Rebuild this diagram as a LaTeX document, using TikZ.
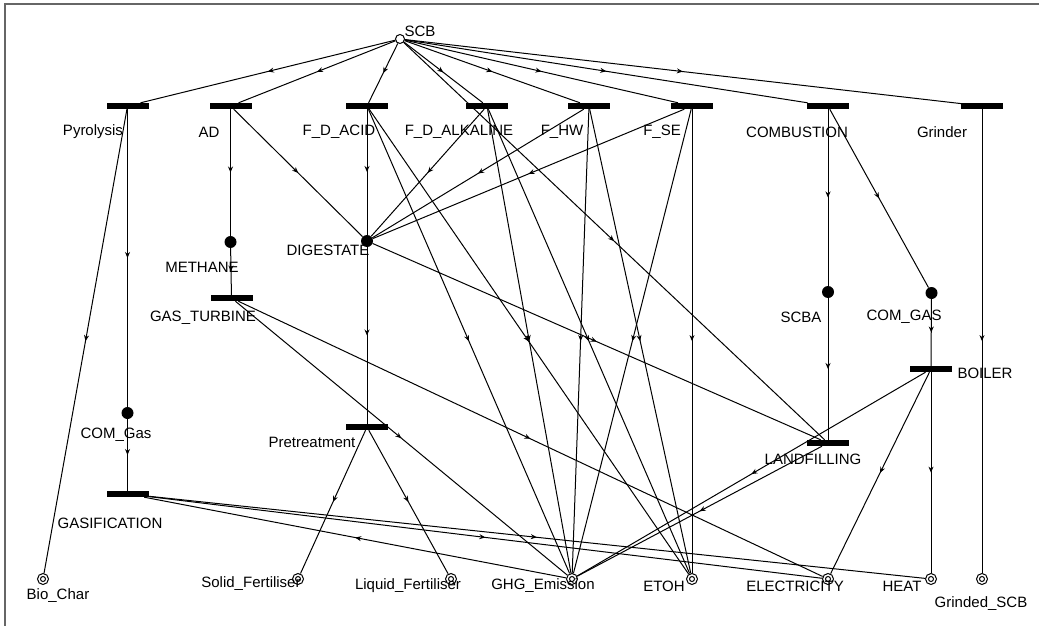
\documentclass[tikz,border=0pt]{standalone}
\usepackage{fontspec}
\setmainfont{Liberation Sans}
\usetikzlibrary{decorations.markings,arrows.meta}
\begin{document}
\begin{tikzpicture}[x=1pt,y=-1pt,
  trans/.style={rectangle,fill=black,minimum width=42pt,minimum height=6pt,inner sep=0pt},
  place/.style={circle,fill=black,minimum size=12pt,inner sep=0pt},
  sink/.style={circle,draw,line width=1pt,fill=white,minimum size=11pt,inner sep=0pt,
    path picture={\draw[line width=1pt] (path picture bounding box.center) circle (2.5pt);}},
  src/.style={circle,draw,line width=1pt,fill=white,minimum size=9pt,inner sep=0pt},
  lbl/.style={font=\fontsize{15}{18}\selectfont,inner sep=0pt,text=black},
  flow/.style={line width=1pt,postaction={decorate},
    decoration={markings,mark=at position 0.5 with {\arrow{Stealth[length=6pt,width=5pt]}}}},
]
\useasboundingbox (0,0) rectangle (1039,626);
% frame
\draw[line width=2pt,black!60] (5,626) -- (5,4) -- (1039,4);

% source place
\node[src] (SCB) at (400,39) {};
% transitions
\node[trans] (PYR) at (127.5,106) {};
\node[trans] (AD) at (230.5,106) {};
\node[trans] (FDA) at (367,106) {};
\node[trans] (FDK) at (487,106) {};
\node[trans] (FHW) at (589,106) {};
\node[trans] (FSE) at (692,106) {};
\node[trans] (COMB) at (828,106) {};
\node[trans] (GRIND) at (982,106) {};
\node[trans] (GT) at (231.5,298) {};
\node[trans] (PRE) at (367,427) {};
\node[trans] (GAS) at (127.5,494) {};
\node[trans] (LAND) at (828,443) {};
\node[trans] (BOIL) at (931,369) {};
% places
\node[place] (METH) at (230.5,242) {};
\node[place] (DIG) at (367,241) {};
\node[place] (COMg) at (127.5,413) {};
\node[place] (SCBA) at (828,292) {};
\node[place] (COMG) at (931.5,293) {};
% sinks
\node[sink] (BIO) at (43,579) {};
\node[sink] (SOLID) at (298,579) {};
\node[sink] (LIQ) at (451,579) {};
\node[sink] (GHG) at (572,579) {};
\node[sink] (ETOH) at (692,579) {};
\node[sink] (ELEC) at (828,579) {};
\node[sink] (HEAT) at (931,579) {};
\node[sink] (GSCB) at (982,579) {};

% labels
\node[lbl] at (420,31) {SCB};
\node[lbl] at (93,132) {Pyrolysis};
\node[lbl] at (209,132) {AD};
\node[lbl] at (339,132) {F\_D\_ACID};
\node[lbl] at (459,132) {F\_D\_ALKALINE};
\node[lbl] at (562,132) {F\_HW};
\node[lbl] at (662,132) {F\_SE};
\node[lbl] at (797,132) {COMBUSTION};
\node[lbl] at (942,132) {Grinder};
\node[lbl] at (202,267) {METHANE};
\node[lbl] at (328,250) {DIGESTATE};
\node[lbl] at (203,318) {GAS\_TURBINE};
\node[lbl] at (312,442) {Pretreatment};
\node[lbl] at (116,435) {COM\_Gas};
\node[lbl] at (110,523) {GASIFICATION};
\node[lbl] at (801,317) {SCBA};
\node[lbl] at (904,317) {COM\_GAS};
\node[lbl] at (985,373) {BOILER};
\node[lbl] at (813,459) {LANDFILLING};
\node[lbl] at (58,596) {Bio\_Char};
\node[lbl] at (251,584) {Solid\_Fertiliser};
\node[lbl] at (408,586) {Liquid\_Fertiliser};
\node[lbl] at (543,586) {GHG\_Emission};
\node[lbl] at (664,586) {ETOH};
\node[lbl] at (795,586) {ELECTRICITY};
\node[lbl] at (902,586) {HEAT};
\node[lbl] at (981,604) {Grinded\_SCB};

% arcs from SCB
\foreach \t in {PYR,AD,FDA,FDK,FHW,FSE,COMB,GRIND,LAND}
  \draw[flow] (SCB) -- (\t);
% Pyrolysis
\draw[flow] (PYR) -- (COMg);
\draw[flow] (PYR) -- (BIO);
\draw[flow] (COMg) -- (GAS);
% AD
\draw[flow] (AD) -- (METH);
\draw[flow] (AD) -- (DIG);
\draw[flow] (METH) -- (GT);
\draw[flow] (GT) -- (GHG);
\draw[flow] (GT) -- (ELEC);
% fractionation transitions
\foreach \t in {FDA,FDK,FHW,FSE} {
  \draw[flow] (\t) -- (DIG);
  \draw[flow] (\t) -- (GHG);
  \draw[flow] (\t) -- (ETOH);
}
% digestate
\draw[flow] (DIG) -- (PRE);
\draw[flow] (DIG) -- (LAND);
\draw[flow] (PRE) -- (SOLID);
\draw[flow] (PRE) -- (LIQ);
% combustion
\draw[flow] (COMB) -- (SCBA);
\draw[flow] (COMB) -- (COMG);
\draw[flow] (SCBA) -- (LAND);
\draw[flow] (COMG) -- (BOIL);
\draw[flow] (BOIL) -- (GHG);
\draw[flow] (BOIL) -- (ELEC);
\draw[flow] (BOIL) -- (HEAT);
\draw[flow] (LAND) -- (GHG);
% gasification
\draw[flow] (GHG) -- (GAS);
\draw[flow] (GAS) -- (ELEC);
\draw[flow] (GAS) -- (HEAT);
% grinder
\draw[flow] (GRIND) -- (GSCB);
\end{tikzpicture}
\end{document}
